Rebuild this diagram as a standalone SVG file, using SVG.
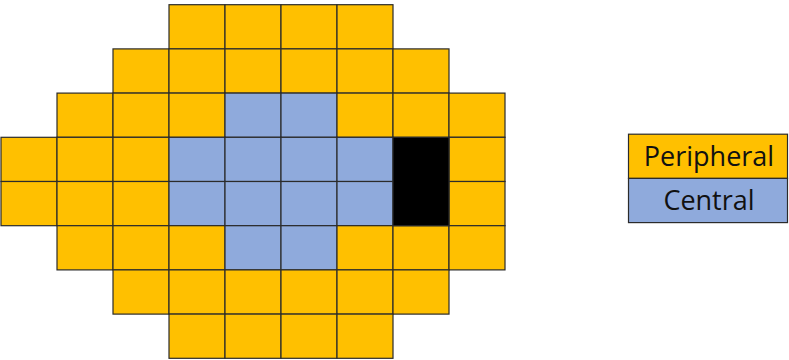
<svg xmlns="http://www.w3.org/2000/svg" width="789" height="360" viewBox="0 0 789 360">
<style>
.o{fill:#FFC000}.b{fill:#8FAADC}.k{fill:#000}
.c{stroke:#2b2b2b;stroke-width:1.2}
text{font-family:"Open Sans","Noto Sans",sans-serif;font-size:27px;fill:#111;text-anchor:middle}
</style>
<g id="grid">
<g id="row0">
<rect class="o c" x="169" y="4.7" width="56" height="44.2"/><rect class="o c" x="225" y="4.7" width="56" height="44.2"/><rect class="o c" x="281" y="4.7" width="56" height="44.2"/><rect class="o c" x="337" y="4.7" width="56" height="44.2"/>
</g>
<g id="row1">
<rect class="o c" x="113" y="48.9" width="56" height="44.2"/><rect class="o c" x="169" y="48.9" width="56" height="44.2"/><rect class="o c" x="225" y="48.9" width="56" height="44.2"/><rect class="o c" x="281" y="48.9" width="56" height="44.2"/><rect class="o c" x="337" y="48.9" width="56" height="44.2"/><rect class="o c" x="393" y="48.9" width="56" height="44.2"/>
</g>
<g id="row2">
<rect class="o c" x="57" y="93.1" width="56" height="44.2"/><rect class="o c" x="113" y="93.1" width="56" height="44.2"/><rect class="o c" x="169" y="93.1" width="56" height="44.2"/><rect class="b c" x="225" y="93.1" width="56" height="44.2"/><rect class="b c" x="281" y="93.1" width="56" height="44.2"/><rect class="o c" x="337" y="93.1" width="56" height="44.2"/><rect class="o c" x="393" y="93.1" width="56" height="44.2"/><rect class="o c" x="449" y="93.1" width="56" height="44.2"/>
</g>
<g id="row3">
<rect class="o c" x="1" y="137.3" width="56" height="44.2"/><rect class="o c" x="57" y="137.3" width="56" height="44.2"/><rect class="o c" x="113" y="137.3" width="56" height="44.2"/><rect class="b c" x="169" y="137.3" width="56" height="44.2"/><rect class="b c" x="225" y="137.3" width="56" height="44.2"/><rect class="b c" x="281" y="137.3" width="56" height="44.2"/><rect class="b c" x="337" y="137.3" width="56" height="44.2"/><rect class="o c" x="449" y="137.3" width="56" height="44.2"/>
</g>
<g id="row4">
<rect class="o c" x="1" y="181.5" width="56" height="44.2"/><rect class="o c" x="57" y="181.5" width="56" height="44.2"/><rect class="o c" x="113" y="181.5" width="56" height="44.2"/><rect class="b c" x="169" y="181.5" width="56" height="44.2"/><rect class="b c" x="225" y="181.5" width="56" height="44.2"/><rect class="b c" x="281" y="181.5" width="56" height="44.2"/><rect class="b c" x="337" y="181.5" width="56" height="44.2"/><rect class="o c" x="449" y="181.5" width="56" height="44.2"/>
</g>
<g id="row5">
<rect class="o c" x="57" y="225.7" width="56" height="44.2"/><rect class="o c" x="113" y="225.7" width="56" height="44.2"/><rect class="o c" x="169" y="225.7" width="56" height="44.2"/><rect class="b c" x="225" y="225.7" width="56" height="44.2"/><rect class="b c" x="281" y="225.7" width="56" height="44.2"/><rect class="o c" x="337" y="225.7" width="56" height="44.2"/><rect class="o c" x="393" y="225.7" width="56" height="44.2"/><rect class="o c" x="449" y="225.7" width="56" height="44.2"/>
</g>
<g id="row6">
<rect class="o c" x="113" y="269.9" width="56" height="44.2"/><rect class="o c" x="169" y="269.9" width="56" height="44.2"/><rect class="o c" x="225" y="269.9" width="56" height="44.2"/><rect class="o c" x="281" y="269.9" width="56" height="44.2"/><rect class="o c" x="337" y="269.9" width="56" height="44.2"/><rect class="o c" x="393" y="269.9" width="56" height="44.2"/>
</g>
<g id="row7">
<rect class="o c" x="169" y="314.1" width="56" height="44.2"/><rect class="o c" x="225" y="314.1" width="56" height="44.2"/><rect class="o c" x="281" y="314.1" width="56" height="44.2"/><rect class="o c" x="337" y="314.1" width="56" height="44.2"/>
</g>
<g id="black-block">
<rect class="k c" x="393" y="137.3" width="56" height="88.4"/>
</g>
</g>
<g id="legend">
<g id="legend-peripheral">
<rect class="o c" x="628.5" y="134.2" width="159" height="44.2"/>
<text x="709" y="166">Peripheral</text>
</g>
<g id="legend-central">
<rect class="b c" x="628.5" y="178.4" width="159" height="44.2"/>
<text x="709" y="210.2">Central</text>
</g>
</g>
<g id="connectors"/>
</svg>
